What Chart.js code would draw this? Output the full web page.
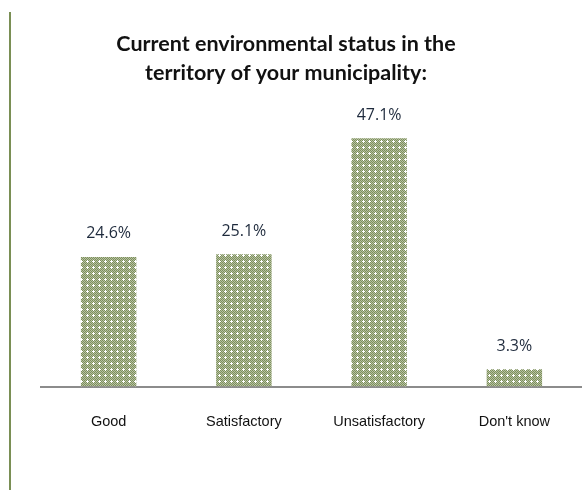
<!DOCTYPE html>
<html>
<head>
<meta charset="utf-8">
<script src="https://cdn.jsdelivr.net/npm/chart.js@4.4.0/dist/chart.umd.min.js"></script>
<style>
  html, body { margin:0; padding:0; background:#fff; }
  #wrap { width:582px; height:495px; position:relative; }
</style>
</head>
<body>
<div id="wrap"><canvas id="chart"></canvas></div>
<script>
const categories = ['Good', 'Satisfactory', 'Unsatisfactory', "Don't know"];
const shares = [24.6, 25.1, 47.1, 3.3];
const titleLines = ['Current environmental status in the', 'territory of your municipality:'];

// dotted olive fill, like the original hatch
function makePattern() {
  const c = document.createElement('canvas');
  c.width = 6; c.height = 6;
  const g = c.getContext('2d');
  for (let y = 0; y < 6; y++) {
    for (let x = 0; x < 6; x++) {
      g.fillStyle = (x + y) % 2 ? '#b7c2a2' : '#7d8f5c';
      g.fillRect(x, y, 1, 1);
    }
  }
  g.fillStyle = '#ffffff';
  g.fillRect(2, 3, 1, 1); g.fillRect(3, 2, 1, 1); g.fillRect(3, 3, 1, 1);
  g.fillRect(4, 3, 1, 1); g.fillRect(3, 4, 1, 1);
  return g.createPattern(c, 'repeat');
}

// left rule and the two-line heading
const frame = {
  id: 'frame',
  beforeDraw(chart) {
    const ctx = chart.ctx;
    ctx.save();
    ctx.strokeStyle = '#7a8f55';
    ctx.lineWidth = 2;
    ctx.beginPath();
    ctx.moveTo(10, 12);
    ctx.lineTo(10, 490);
    ctx.stroke();
    ctx.font = 'bold 21.5px Lato, sans-serif';
    ctx.fillStyle = '#111';
    ctx.textAlign = 'center';
    ctx.textBaseline = 'middle';
    ctx.fillText(titleLines[0], 286, 44);
    ctx.fillText(titleLines[1], 286, 73);
    ctx.restore();
  }
};

const valueLabels = {
  id: 'valueLabels',
  afterDatasetsDraw(chart) {
    const ctx = chart.ctx;
    const meta = chart.getDatasetMeta(0);
    ctx.save();
    ctx.font = '16px "Open Sans", sans-serif';
    ctx.fillStyle = '#1e2a3c';
    ctx.textAlign = 'center';
    ctx.textBaseline = 'bottom';
    meta.data.forEach((bar, i) => {
      ctx.fillText(shares[i].toFixed(1) + '%', bar.x, bar.y - 15);
    });
    ctx.restore();
  }
};

new Chart(document.getElementById('chart'), {
  type: 'bar',
  data: {
    labels: categories,
    datasets: [{
      data: shares,
      backgroundColor: makePattern(),
      borderWidth: 0,
      barPercentage: 0.41,
      categoryPercentage: 1
    }]
  },
  options: {
    responsive: true,
    maintainAspectRatio: false,
    animation: false,
    layout: { padding: { left: 41, right: 0, top: 123, bottom: 37 } },
    plugins: {
      legend: { display: false },
      tooltip: { enabled: false },
      title: { display: false }
    },
    scales: {
      x: {
        grid: { display: false, drawTicks: false },
        border: { display: true, color: '#8c8c8c', width: 2 },
        ticks: { color: '#111', font: { family: 'Liberation Sans', size: 14.5 }, padding: 27 }
      },
      y: {
        display: false,
        min: 0,
        max: 50
      }
    }
  },
  plugins: [frame, valueLabels]
});
</script>
</body>
</html>
